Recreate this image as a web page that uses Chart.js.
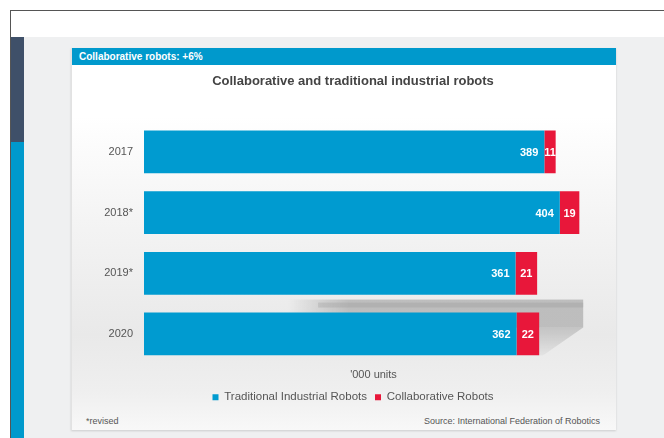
<!DOCTYPE html>
<html>
<head>
<meta charset="utf-8">
<script src="https://cdn.jsdelivr.net/npm/chart.js@4.4.1/dist/chart.umd.min.js"></script>
<style>
  html, body { margin: 0; padding: 0; }
  body { width: 664px; height: 438px; position: relative; overflow: hidden; background: #fff; font-family: "Liberation Sans", Arial, sans-serif; }
  #frame { position: absolute; left: 10px; top: 10px; right: 0; bottom: 0; border-top: 1px solid #555; border-left: 1px solid #555; }
  #stage { position: absolute; left: 11px; top: 37px; right: 0; bottom: 0; background: #eff0f1; }
  #stripDark { position: absolute; left: 11px; top: 37px; width: 13px; height: 105px; background: #3f5069; }
  #stripBlue { position: absolute; left: 11px; top: 142px; width: 13px; bottom: 0; background: #0099cc; }
  #panel { position: absolute; left: 71px; top: 48px; width: 544px; height: 382px;
           background: linear-gradient(to bottom, #ffffff 0%, #ffffff 18%, #f4f4f4 45%, #e9e9e9 75%, #efefef 90%, #f8f8f8 100%);
           box-shadow: 0 1px 2px rgba(0,0,0,0.15); border-left: 1px solid #e2e2e2; }
  #header { position: absolute; left: 0; top: 0; right: 0; height: 17px; background: #0099cc; color: #fff;
            font-size: 10px; font-weight: bold; line-height: 17px; padding-left: 7px; }
  #chartBox { position: absolute; left: 0; top: 17px; width: 544px; height: 348px; }
  .foot { position: absolute; top: 368px; font-size: 9px; color: #555; }
</style>
</head>
<body>
<div id="frame"></div>
<div id="stage"></div>
<div id="stripDark"></div>
<div id="stripBlue"></div>
<div id="panel">
  <div id="header">Collaborative robots: +6%</div>
  <div id="chartBox"><canvas id="chart" width="544" height="348"></canvas></div>
  <div class="foot" style="left:14px">*revised</div>
  <div class="foot" style="right:16px">Source: International Federation of Robotics</div>
</div>
<script>
// data
const years = ['2017', '2018*', '2019*', '2020'];
const traditional = [389, 404, 361, 362];
const collaborative = [11, 19, 21, 22];

const BLUE = '#009bd0';
const RED = '#e8173a';
const FONT = '"Liberation Sans", Arial, sans-serif';

// value labels inside the bars
const barLabels = {
  id: 'barLabels',
  afterDatasetsDraw(chart) {
    const ctx = chart.ctx;
    ctx.save();
    ctx.font = 'bold 11px ' + FONT;
    ctx.fillStyle = '#fff';
    ctx.textBaseline = 'middle';
    chart.getDatasetMeta(0).data.forEach((bar, i) => {
      ctx.textAlign = 'right';
      ctx.fillText(traditional[i], bar.x - 6, bar.y + 1);
    });
    chart.getDatasetMeta(1).data.forEach((bar, i) => {
      ctx.textAlign = 'center';
      ctx.fillText(collaborative[i], (bar.x + bar.base) / 2, bar.y + 1);
    });
    ctx.restore();
  }
};

// soft grey shelf shadow behind the last bar
const barShadow = {
  id: 'barShadow',
  beforeDatasetsDraw(chart) {
    const ctx = chart.ctx;
    const last = chart.getDatasetMeta(1).data[years.length - 1];
    const x0 = chart.scales.x.getPixelForValue(140);
    const x1 = last.x + 44;
    const top = last.y - last.height / 2 - 15;
    const mid = top + 30;
    const bottom = last.y + last.height / 2;
    ctx.save();
    const gh = ctx.createLinearGradient(x0, 0, x0 + 60, 0);
    gh.addColorStop(0, 'rgba(170,170,170,0)');
    gh.addColorStop(1, 'rgba(170,170,170,0.7)');
    ctx.fillStyle = gh;
    ctx.fillRect(x0, top + 2, x1 - x0, mid - top - 2);
    ctx.fillStyle = 'rgba(150,150,150,0.3)';
    ctx.fillRect(x0 + 30, top + 5, x1 - x0 - 30, 5);
    const g2 = ctx.createLinearGradient(0, mid, 0, bottom);
    g2.addColorStop(0, 'rgba(165,165,165,0.55)');
    g2.addColorStop(1, 'rgba(165,165,165,0.1)');
    ctx.fillStyle = g2;
    ctx.beginPath();
    ctx.moveTo(last.x, mid);
    ctx.lineTo(x1, mid);
    ctx.lineTo(last.x + 4, bottom);
    ctx.lineTo(last.x, bottom);
    ctx.closePath();
    ctx.fill();
    ctx.restore();
  }
};

new Chart(document.getElementById('chart'), {
  type: 'bar',
  data: {
    labels: years,
    datasets: [
      { label: 'Traditional Industrial Robots', data: traditional, backgroundColor: BLUE, barPercentage: 0.85, categoryPercentage: 0.83 },
      { label: 'Collaborative Robots', data: collaborative, backgroundColor: RED, barPercentage: 0.85, categoryPercentage: 0.83 }
    ]
  },
  options: {
    indexAxis: 'y',
    responsive: false,
    animation: false,
    maintainAspectRatio: false,
    layout: { padding: { left: 31, right: 13, top: 0, bottom: 0 } },
    plugins: {
      title: {
        display: true,
        text: 'Collaborative and traditional industrial robots',
        color: '#444',
        font: { size: 13, weight: 'bold', family: FONT },
        padding: { top: 9, bottom: 32 }
      },
      legend: {
        position: 'bottom',
        labels: {
          color: '#555',
          font: { size: 11.5, family: FONT },
          boxWidth: 6, boxHeight: 6, padding: 8,
          usePointStyle: true, pointStyle: 'rect'
        }
      },
      tooltip: { enabled: false }
    },
    scales: {
      x: {
        stacked: true, min: 0, max: 446,
        grid: { display: false }, border: { display: false },
        ticks: { display: false },
        title: { display: true, text: "'000 units", color: '#555', font: { size: 11, family: FONT }, padding: { top: -4, bottom: 2 } }
      },
      y: {
        stacked: true,
        grid: { display: false }, border: { display: false },
        ticks: { color: '#555', font: { size: 11, family: FONT }, padding: 3 },
        afterFit(scale) { scale.width = 41; }
      }
    }
  },
  plugins: [barShadow, barLabels]
});
</script>
</body>
</html>
